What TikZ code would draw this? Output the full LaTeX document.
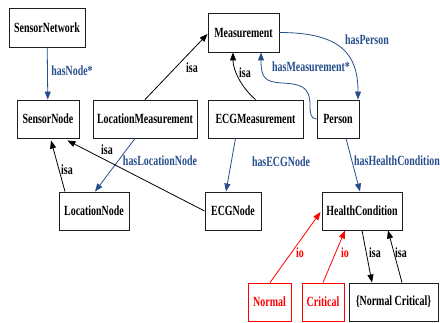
\documentclass[tikz,border=0pt]{standalone}
\usepackage{fontspec}
\setmainfont{Liberation Serif}
\usetikzlibrary{arrows.meta,calc}
\definecolor{relblue}{RGB}{38,78,140}
\definecolor{iored}{RGB}{255,0,0}
\definecolor{boxline}{RGB}{30,30,30}
% narrow bold serif text used for every label
\newcommand{\nar}[1]{\scalebox{0.71}[1]{\fontsize{14}{16}\selectfont\bfseries #1}}
\tikzset{
  cls/.style={draw=boxline, line width=0.9pt, inner sep=0pt, minimum height=38pt},
  inst/.style={cls, draw=iored, text=iored, line width=0.8pt},
  elab/.style={inner sep=0pt},
  rel/.style={draw=relblue, line width=0.8pt, -{Triangle[length=8pt,width=6pt]}},
  isaedge/.style={draw=black, line width=0.8pt, -{Triangle[length=8pt,width=6pt]}},
  ioedge/.style={draw=iored, line width=0.8pt, -{Triangle[length=8pt,width=6pt]}},
}
\begin{document}
\begin{tikzpicture}[x=1pt,y=-1pt]
\useasboundingbox (0,0) rectangle (440,322);

% classes
\node[cls, minimum width=76pt, minimum height=39pt] (net)  at (47,27.5)  {\nar{SensorNetwork}};
\node[cls, minimum width=62pt]  (snode) at (48,119)    {\nar{SensorNode}};
\node[cls, minimum width=104pt] (locm)  at (145,119)   {\nar{LocationMeasurement}};
\node[cls, minimum width=71pt, minimum height=39pt] (meas) at (243.5,32.5) {\nar{Measurement}};
\node[cls, minimum width=95pt]  (ecgm)  at (255.5,119) {\nar{ECGMeasurement}};
\node[cls, minimum width=42pt]  (pers)  at (338,119)   {\nar{Person}};
\node[cls, minimum width=70pt]  (locn)  at (94,211)    {\nar{LocationNode}};
\node[cls, minimum width=56pt]  (ecgn)  at (233,211)   {\nar{ECGNode}};
\node[cls, minimum width=80pt]  (hc)    at (362,211)   {\nar{HealthCondition}};
\node[inst, minimum width=43pt] (norm)  at (269.5,302) {\nar{Normal}};
\node[inst, minimum width=42pt] (crit)  at (323,302)   {\nar{Critical}};
\node[cls, minimum width=89pt]  (both)  at (393.5,302) {\nar{\{Normal Critical\}}};

% relations
\draw[rel] (net) -- (snode);
\node[elab, text=relblue] (lnet) at (72,71) {\nar{hasNode*}};

\draw[rel] (meas.east) .. controls +(62,0) and +(0,-45) .. ($(pers.north)+(20,0)$);
\node[elab, text=relblue] (lper) at (367,40) {\nar{hasPerson}};

\draw[rel] (pers.west) .. controls +(-6,0) and +(0,8) .. (310,105)
  .. controls (310,86) and (300,84) .. (282,83)
  .. controls (265,82) and (261,78) .. ($(meas.south)+(17.5,0)$);
\node[elab, text=relblue] (lmeas) at (311,67) {\nar{hasMeasurement*}};

\draw[rel] ($(locm.south)+(-10,0)$) -- ($(locn.north)+(1,0)$);
\node[elab, text=relblue] (lloc) at (160,161) {\nar{hasLocationNode}};

\draw[rel] ($(ecgm.south)+(-20,0)$) -- ($(ecgn.north)+(-7,0)$);
\node[elab, text=relblue] (lecg) at (281,162) {\nar{hasECGNode}};

\draw[rel] ($(pers.south)+(8,0)$) -- ($(hc.north)+(-2,0)$);
\node[elab, text=relblue] (lhc) at (397,161) {\nar{hasHealthCondition}};

% subclass links
\draw[isaedge] (locm.north) -- ($(meas.west)+(0,1.5)$);
\node[elab] (i1) at (192,68) {\nar{isa}};

\draw[isaedge] (ecgm.north) .. controls +(-14,-12) and +(0,18) .. ($(meas.south)+(-10.5,0)$);
\node[elab] (i2) at (245,73) {\nar{isa}};

\draw[isaedge] (ecgn.west) -- ($(snode.south east)+(-12,2)$);
\node[elab] (i3) at (107,150) {\nar{isa}};

\draw[isaedge] ($(locn.north)+(-29,0)$) -- ($(snode.south)+(3,2)$);
\node[elab] (i4) at (67,170) {\nar{isa}};

\draw[isaedge] (hc.south) -- ($(both.north)+(-21.5,0)$);
\node[elab] (i5) at (375,253) {\nar{isa}};

\draw[isaedge] ($(both.north)+(8.5,0)$) -- ($(hc.south)+(26,0)$);
\node[elab] (i6) at (401,253) {\nar{isa}};

% instance links
\draw[ioedge] ($(norm.north)+(0.5,0)$) -- ($(hc.west)+(-1,1)$);
\node[elab, text=iored] (o1) at (300,253) {\nar{io}};

\draw[ioedge] (crit.north) -- ($(hc.south)+(-17,0)$);
\node[elab, text=iored] (o2) at (345,253) {\nar{io}};
\end{tikzpicture}
\end{document}
